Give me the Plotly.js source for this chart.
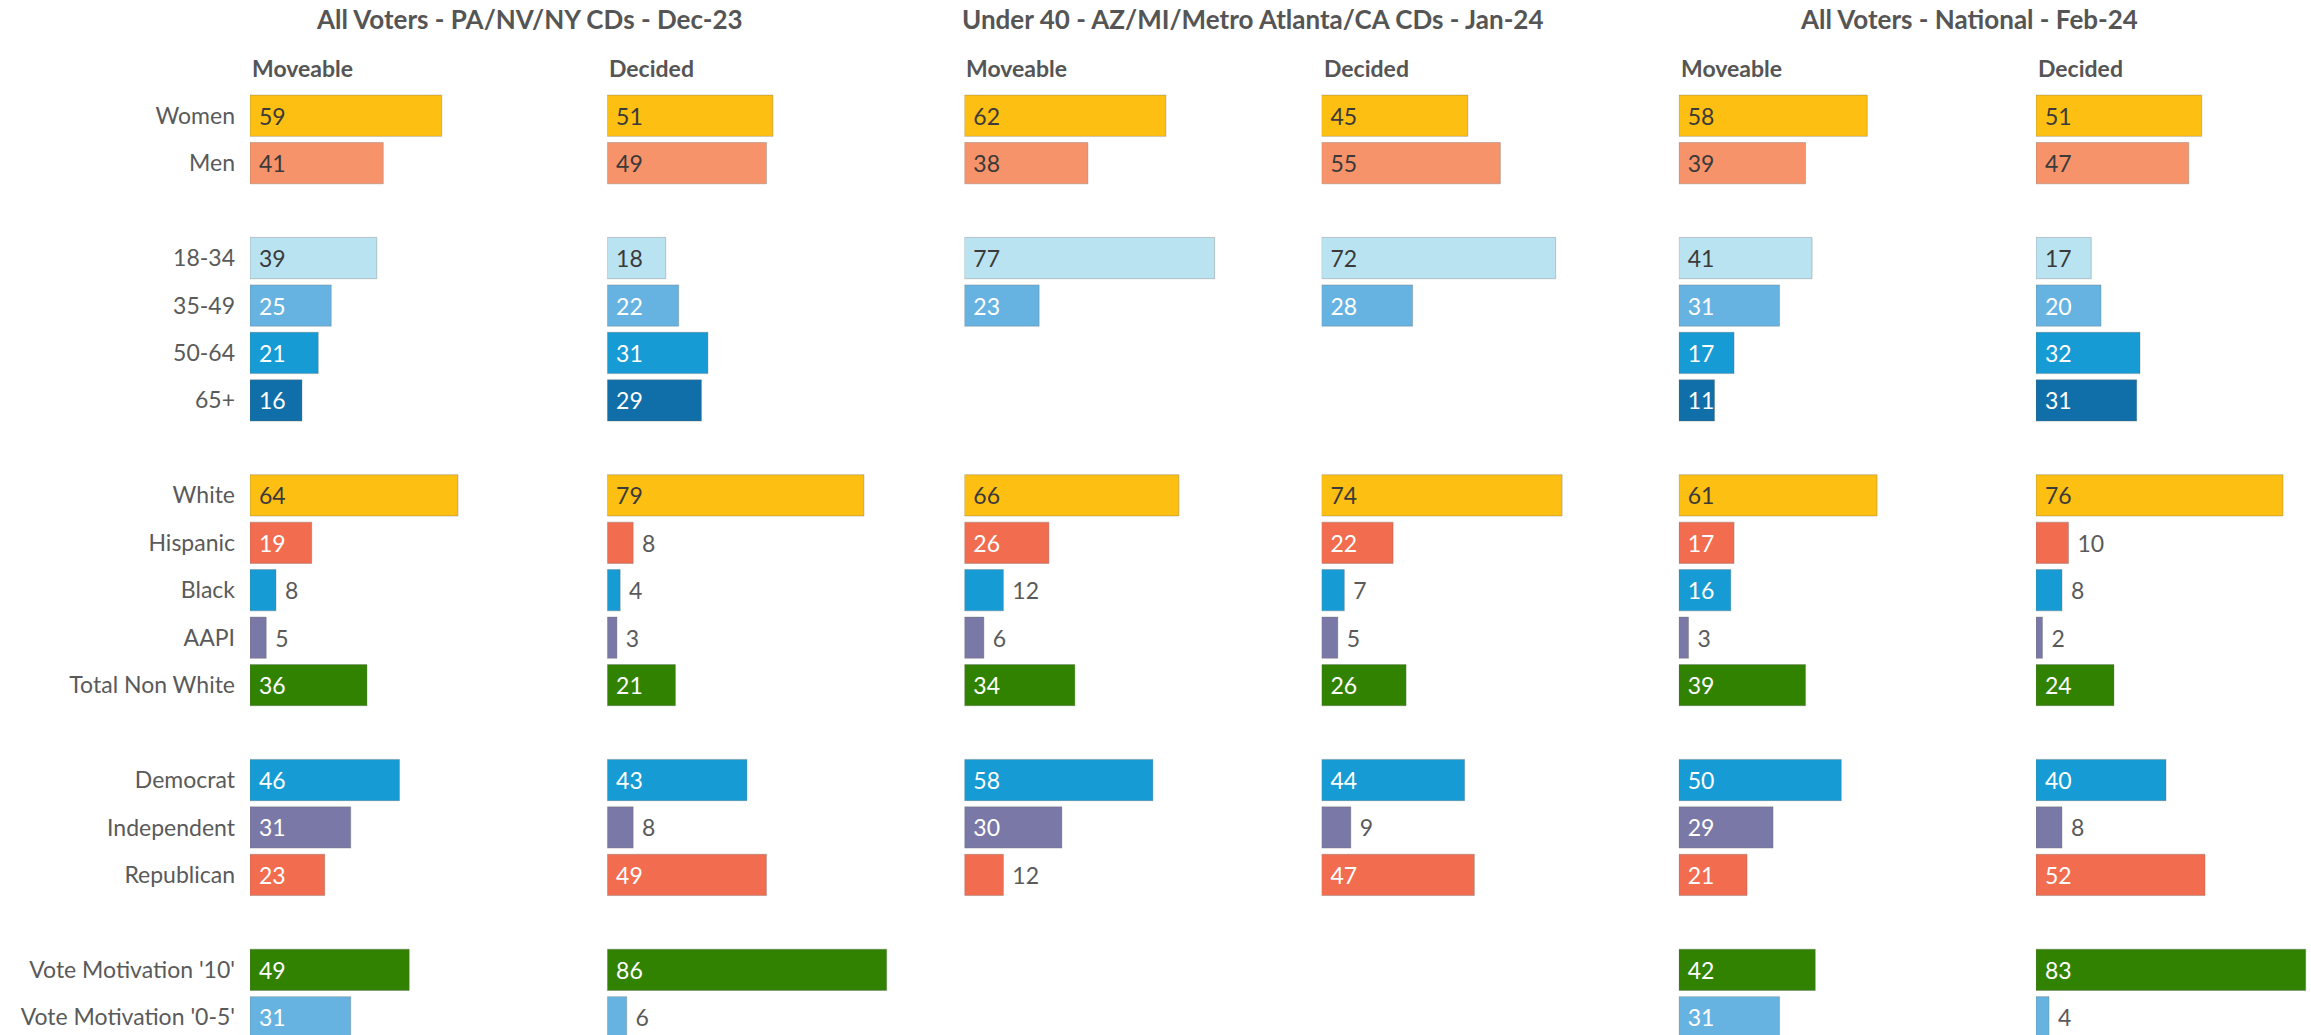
<!DOCTYPE html>
<html>
<head>
<meta charset="utf-8">
<script src="https://cdn.plot.ly/plotly-3.0.1.min.js"></script>
<style>html,body{margin:0;padding:0;background:#fff;}#chart{width:2311px;height:1035px;}</style>
</head>
<body>
<div id="chart"></div>
<script>
// ---------- DATA ----------
const genderRows = ['Women', 'Men'];
const ageRows = ['18-34', '35-49', '50-64', '65+'];
const raceRows = ['White', 'Hispanic', 'Black', 'AAPI', 'Total Non White'];
const partyRows = ['Democrat', 'Independent', 'Republican'];
const motivationRows = ["Vote Motivation '10'", "Vote Motivation '0-5'"];

const rows = [].concat(genderRows, ageRows, raceRows, partyRows, motivationRows);

const surveyTitles = [
  'All Voters - PA/NV/NY CDs - Dec-23',
  'Under 40 - AZ/MI/Metro Atlanta/CA CDs - Jan-24',
  'All Voters - National - Feb-24'
];
const segmentNames = ['Moveable', 'Decided'];

// values in the order of `rows`; null = not asked
const paMoveable   = [59, 41, 39, 25, 21, 16, 64, 19, 8, 5, 36, 46, 31, 23, 49, 31];
const paDecided    = [51, 49, 18, 22, 31, 29, 79, 8, 4, 3, 21, 43, 8, 49, 86, 6];
const u40Moveable  = [62, 38, 77, 23, null, null, 66, 26, 12, 6, 34, 58, 30, 12, null, null];
const u40Decided   = [45, 55, 72, 28, null, null, 74, 22, 7, 5, 26, 44, 9, 47, null, null];
const natMoveable  = [58, 39, 41, 31, 17, 11, 61, 17, 16, 3, 39, 50, 29, 21, 42, 31];
const natDecided   = [51, 47, 17, 20, 32, 31, 76, 10, 8, 2, 24, 40, 8, 52, 83, 4];

const panels = [paMoveable, paDecided, u40Moveable, u40Decided, natMoveable, natDecided];

// ---------- STYLE ----------
const YEL = '#FDBF11', SAL = '#F7936A', LBL = '#BAE3F1', MBL = '#66B3E2',
      BLU = '#169BD4', DBL = '#106FA9', RED = '#F26D50', PUR = '#7A78A6', GRN = '#318200';
const DARKTXT = '#3a3a3a', WHITE = '#ffffff', GREYTXT = '#5a5a5a';
const rowStyle = {
  'Women': [YEL, DARKTXT], 'Men': [SAL, DARKTXT],
  '18-34': [LBL, DARKTXT], '35-49': [MBL, WHITE], '50-64': [BLU, WHITE], '65+': [DBL, WHITE],
  'White': [YEL, DARKTXT], 'Hispanic': [RED, WHITE], 'Black': [BLU, WHITE], 'AAPI': [PUR, WHITE],
  'Total Non White': [GRN, WHITE],
  'Democrat': [BLU, WHITE], 'Independent': [PUR, WHITE], 'Republican': [RED, WHITE],
  "Vote Motivation '10'": [GRN, WHITE], "Vote Motivation '0-5'": [MBL, WHITE]
};
const FONT = 'Lato, "Open Sans", sans-serif';
const TITLE_COL = '#555555';
// label goes inside the bar when it is long enough (dark 65+ bars always inside)
const labelInside = (v, row) => v >= 15 || row === '65+';

// category order with blank spacer rows between groups
const groups = [genderRows, ageRows, raceRows, partyRows, motivationRows];
const categoryOrder = [];
groups.forEach((g, i) => {
  if (i > 0) categoryOrder.push('\u00a0'.repeat(i));
  g.forEach(r => categoryOrder.push(r));
});

// ---------- LAYOUT GEOMETRY ----------
const W = 2311, H = 1035, ML = 250, MT = 92;
const plotW = W - ML, plotH = H - MT;
const colStep = 357.2, pxPerUnit = 3.25;
const slotPx = 47.45;

const traces = [];
const layout = {
  width: W, height: H,
  margin: {l: ML, r: 0, t: MT, b: 0, pad: 0},
  paper_bgcolor: '#fff', plot_bgcolor: '#fff',
  showlegend: false,
  bargap: 0.13,
  font: {family: FONT, color: GREYTXT},
  annotations: [],
  yaxis: {
    type: 'category', categoryorder: 'array', categoryarray: categoryOrder,
    range: [-0.5 + plotH / slotPx, -0.5],
    showgrid: false, zeroline: false, showline: false, ticks: '',
    ticklabelstandoff: 14,
    tickfont: {family: FONT, size: 23, color: GREYTXT},
    fixedrange: true
  }
};

panels.forEach((vals, i) => {
  const axName = i === 0 ? 'x' : 'x' + (i + 1);
  const layName = i === 0 ? 'xaxis' : 'xaxis' + (i + 1);
  const d0 = i * colStep / plotW;
  const d1 = Math.min(1, ((i + 1) * colStep - 2) / plotW);
  layout[layName] = {
    domain: [d0, d1], range: [0, (d1 - d0) * plotW / pxPerUnit],
    visible: false, fixedrange: true, anchor: 'y'
  };
  const xs = [], ys = [], fills = [], tcol = [], tpos = [];
  rows.forEach((r, k) => {
    const v = vals[k];
    if (v === null || v === undefined) return;
    xs.push(v); ys.push(r);
    fills.push(rowStyle[r][0]);
    const inside = labelInside(v, r);
    tpos.push(inside ? 'inside' : 'outside');
    tcol.push(inside ? rowStyle[r][1] : GREYTXT);
  });
  traces.push({
    type: 'bar', orientation: 'h', x: xs, y: ys,
    xaxis: axName, yaxis: 'y',
    marker: {color: fills, line: {color: 'rgba(110,110,110,0.35)', width: 1}},
    texttemplate: '\u00a0%{x}', textposition: tpos, textangle: 0,
    insidetextanchor: 'start', constraintext: 'none', cliponaxis: false,
    textfont: {family: FONT, size: 23, color: tcol},
    hoverinfo: 'skip'
  });
  // segment header
  layout.annotations.push({
    text: '<b>' + segmentNames[i % 2] + '</b>',
    xref: axName + ' domain', x: 0, xanchor: 'left', xshift: 0,
    yref: 'paper', y: (H - 68) / plotH, yanchor: 'middle',
    showarrow: false, font: {family: FONT, size: 23, color: TITLE_COL}
  });
});

// survey titles (centered px positions)
const titleCenters = [529, 1253, 1969];
surveyTitles.forEach((t, j) => {
  layout.annotations.push({
    text: '<b>' + t + '</b>',
    xref: 'paper', x: (titleCenters[j] - ML) / plotW, xanchor: 'center',
    yref: 'paper', y: (H - 19) / plotH, yanchor: 'middle',
    showarrow: false, font: {family: FONT, size: 26, color: TITLE_COL}
  });
});

Plotly.newPlot('chart', traces, layout, {displayModeBar: false, staticPlot: true});
</script>
</body>
</html>
